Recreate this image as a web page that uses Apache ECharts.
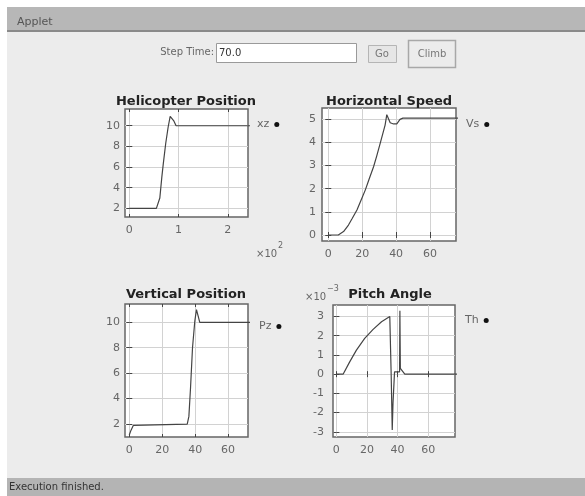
<!DOCTYPE html>
<html style="height: 100%">
<head>
    <meta charset="utf-8">
    <script src="https://cdn.jsdelivr.net/npm/echarts@6/dist/echarts.min.js"></script>
</head>
<body style="height: 100%; margin: 0; background: #fff">
    <div id="main" style="width:585px;height:496px;"></div>
    <script type="text/javascript">
    // helicopter position (x in 10^2, z)
    var posX = [0, 0.55, 0.59, 0.62, 0.66, 0.69, 0.74, 0.79, 0.83, 0.86, 0.9, 0.95, 2.5];
    var posZ = [2, 2, 2.05, 3.0, 5.0, 6.3, 8.3, 9.9, 10.9, 11.0, 10.5, 10.0, 10.0];
    // horizontal speed vs time
    var vsT = [0, 5.9, 9, 11.9, 14, 16.9, 19, 21.8, 24, 26.7, 28.5, 30.6, 33.5, 34.5, 36.5, 38.5, 40.4, 42.3, 44, 80];
    var vsV = [0, 0, 0.15, 0.43, 0.7, 1.08, 1.45, 1.94, 2.4, 2.95, 3.4, 3.96, 4.75, 5.2, 4.85, 4.8, 4.8, 5.0, 5.05, 5.05];
    // vertical position vs time
    var pzT = [0, 1, 2.5, 3.5, 35.2, 36.2, 37.2, 38.4, 39.8, 40.8, 41.8, 42.8, 80];
    var pzV = [1.14, 1.5, 1.9, 2, 2, 2.6, 4.85, 8.0, 10.1, 11.0, 10.5, 10.0, 10.0];
    // pitch angle (x10^-3) vs time
    var thT = [0, 4.4, 5.5, 8.7, 13.1, 18.5, 24, 29.5, 34.9, 35.8, 36.5, 37, 38, 41.3, 41.5, 41.8, 44.7, 80];
    var thV = [0, 0, 0.07, 0.64, 1.25, 1.86, 2.33, 2.73, 3.0, 0, -2.9, -1.5, 0.12, 0.12, 3.3, 0.3, 0, 0];

    var timeTicks = [0, 20, 40, 60];
    var posTicks = [0, 1, 2];
    var zTicks = [2, 4, 6, 8, 10];
    var vsTicks = [0, 1, 2, 3, 4, 5];
    var thTicks = [-3, -2, -1, 0, 1, 2, 3];

    var FONT = 'DejaVu Sans';
    var myChart = echarts.init(document.getElementById('main'));

    function pairs(a, b) {
        return a.map(function (v, i) { return [v, b[i]]; });
    }

    function ax(idx, min, max, ticks, margin, pos) {
        var main = (pos === 'bottom' || pos === 'left');
        return {
            type: 'value', gridIndex: idx, min: min, max: max, position: pos,
            axisLine: { show: false },
            axisTick: { inside: true, length: 3, customValues: ticks, lineStyle: { color: '#444' } },
            axisLabel: { show: main, customValues: ticks, color: '#666', fontSize: 11, fontFamily: FONT, margin: margin },
            splitLine: { show: main, lineStyle: { color: '#d2d2d2' } }
        };
    }
    function grid(l, t, w, h) {
        return { left: l, top: t, width: w, height: h, show: true,
            backgroundColor: '#fff', borderColor: '#666', borderWidth: 1.5 };
    }
    function legend(name, l, t) {
        return {
            data: [{ name: name, itemStyle: { color: '#111' } }],
            left: l, top: t, align: 'right', icon: 'circle',
            itemWidth: 5, itemHeight: 5, itemGap: 4,
            textStyle: { color: '#666', fontSize: 11, fontFamily: FONT }
        };
    }
    function line(name, idx, data) {
        return { name: name, type: 'line', xAxisIndex: idx, yAxisIndex: idx,
            showSymbol: false, animation: false, data: data,
            lineStyle: { color: '#444', width: 1.2 }, itemStyle: { color: '#444' } };
    }
    function ttl(text, cx, top) {
        return { text: text, left: cx, top: top, textAlign: 'center', padding: 0,
            textStyle: { fontSize: 13, fontWeight: 'bold', color: '#222', fontFamily: FONT } };
    }
    function txt(x, y, s, size, color, align) {
        return { type: 'text', x: x, y: y,
            style: { text: s, fontSize: size, fill: color, fontFamily: FONT,
                align: align || 'left', verticalAlign: 'middle' } };
    }

    var option = {
        backgroundColor: '#ececec',
        animation: false,
        title: [
            ttl('Helicopter Position', 186, 95),
            ttl('Horizontal Speed', 389, 95),
            ttl('Vertical Position', 186, 288),
            ttl('Pitch Angle', 390, 288)
        ],
        legend: [
            legend('xz', 252, 114),
            legend('Vs', 461, 114),
            legend('Pz', 254, 316),
            legend('Th', 460, 310)
        ],
        grid: [
            grid(125, 109, 123, 108),
            grid(322, 108, 134, 133),
            grid(125, 304, 123, 133),
            grid(333, 305, 122, 132)
        ],
        xAxis: [
            ax(0, -0.087, 2.41, posTicks, 8, 'bottom'),
            ax(1, -3.7, 75.3, timeTicks, 8, 'bottom'),
            ax(2, -2.6, 72.1, timeTicks, 8, 'bottom'),
            ax(3, -2.2, 77.5, timeTicks, 8, 'bottom'),
            ax(0, -0.087, 2.41, posTicks, 8, 'top'),
            ax(1, -3.7, 75.3, timeTicks, 8, 'top'),
            ax(2, -2.6, 72.1, timeTicks, 8, 'top'),
            ax(3, -2.2, 77.5, timeTicks, 8, 'top')
        ],
        yAxis: [
            ax(0, 1.16, 11.62, zTicks, 5, 'left'),
            ax(1, -0.26, 5.49, vsTicks, 6, 'left'),
            ax(2, 0.98, 11.44, zTicks, 5, 'left'),
            ax(3, -3.27, 3.6, thTicks, 9, 'left'),
            ax(0, 1.16, 11.62, zTicks, 5, 'right'),
            ax(1, -0.26, 5.49, vsTicks, 6, 'right'),
            ax(2, 0.98, 11.44, zTicks, 5, 'right'),
            ax(3, -3.27, 3.6, thTicks, 9, 'right')
        ],
        series: [
            line('xz', 0, pairs(posX, posZ)),
            line('Vs', 1, pairs(vsT, vsV)),
            line('Pz', 2, pairs(pzT, pzV)),
            line('Th', 3, pairs(thT, thV))
        ],
        graphic: [
            // applet frame
            { type: 'rect', shape: { x: 0, y: 0, width: 585, height: 7 }, style: { fill: '#fff' } },
            { type: 'rect', shape: { x: 0, y: 0, width: 7, height: 496 }, style: { fill: '#fff' } },
            { type: 'rect', shape: { x: 7, y: 7, width: 578, height: 24 }, style: { fill: '#b7b7b7' } },
            { type: 'rect', shape: { x: 7, y: 30, width: 578, height: 2 }, style: { fill: '#8a8a8a' } },
            { type: 'rect', shape: { x: 7, y: 478, width: 578, height: 18 }, style: { fill: '#b4b4b4' } },
            txt(17, 22, 'Applet', 11, '#555'),
            txt(9, 487, 'Execution finished.', 10, '#333'),
            // controls
            txt(214, 52, 'Step Time:', 10, '#666', 'right'),
            { type: 'rect', shape: { x: 216.5, y: 43.5, width: 140, height: 19 },
              style: { fill: '#fff', stroke: '#9a9a9a', lineWidth: 1 } },
            txt(219, 53, '70.0', 10, '#333'),
            { type: 'rect', shape: { x: 368.5, y: 45.5, width: 28, height: 17 },
              style: { fill: '#e6e6e6', stroke: '#b5b5b5', lineWidth: 1 } },
            txt(382, 54, 'Go', 10, '#777', 'center'),
            { type: 'rect', shape: { x: 408.5, y: 40.5, width: 47, height: 27 },
              style: { fill: '#ececec', stroke: '#a8a8a8', lineWidth: 1.5 } },
            txt(432, 54, 'Climb', 10, '#777', 'center'),
            // exponent labels
            txt(256, 254, '×10', 10, '#666'),
            txt(278, 246, '2', 8, '#666'),
            txt(305, 297, '×10', 10, '#666'),
            txt(327, 289, '−3', 8, '#666')
        ]
    };
    myChart.setOption(option);
    </script>
</body>
</html>
